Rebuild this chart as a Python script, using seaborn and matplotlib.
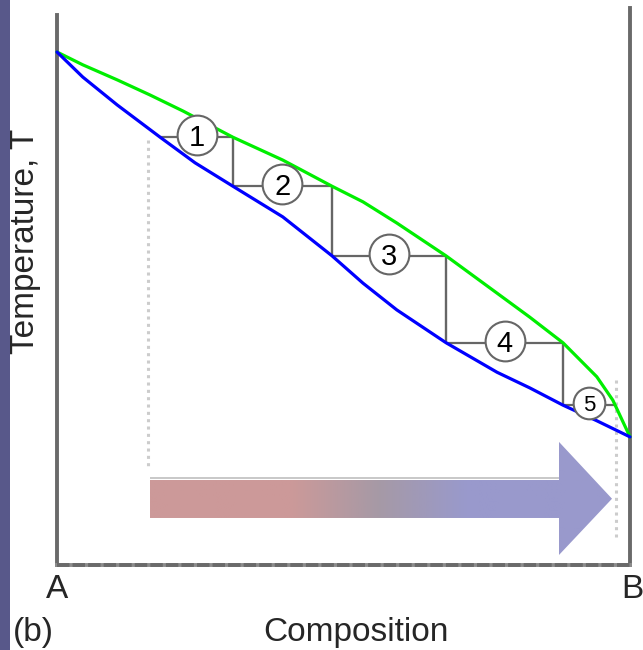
import numpy as np
import pandas as pd
import matplotlib
matplotlib.use("Agg")
import matplotlib.pyplot as plt
from matplotlib.patches import Polygon, Rectangle
import seaborn as sns

# ---------------- data (composition 0 = A, 1 = B; temperature in arbitrary units) ----
endpoints = ["A", "B"]

vapour_x = [0.0, 0.045, 0.105, 0.162, 0.220, 0.307, 0.394, 0.480, 0.534, 0.593,
            0.679, 0.768, 0.825, 0.883, 0.942, 0.970, 1.0]
vapour_T = [92.1, 89.8, 87.1, 84.4, 81.5, 76.8, 72.7, 68.0, 65.2, 61.4,
            55.5, 48.8, 44.5, 39.9, 33.8, 29.6, 23.0]

liquid_x = [0.0, 0.045, 0.105, 0.180, 0.241, 0.307, 0.394, 0.480, 0.534,
            0.593, 0.679, 0.768, 0.825, 0.883, 0.942, 1.0]
liquid_T = [92.1, 87.6, 82.6, 76.8, 72.2, 68.0, 62.5, 55.5, 50.6,
            45.8, 39.9, 34.6, 31.8, 28.7, 25.9, 23.0]

step_labels = ["1", "2", "3", "4", "5"]
step_T = [76.8, 68.0, 55.5, 39.9, 28.7]
step_x_liquid = [0.180, 0.307, 0.480, 0.679, 0.883]
step_x_vapour = [0.307, 0.480, 0.679, 0.883, 0.975]

start_comp = 0.159
end_comp = 0.976

# ---------------- figure ----------------
sns.set_style("white")
plt.rcParams["font.family"] = ["Liberation Sans", "DejaVu Sans"]

W, H = 643, 650
fig = plt.figure(figsize=(W / 100, H / 100), dpi=100)
fig.patch.set_facecolor("white")
fig.patches.append(Rectangle((0, 0), 10 / W, 1, transform=fig.transFigure,
                             facecolor="#58588a", edgecolor="none", zorder=0))

ax = fig.add_axes([57 / W, (H - 565) / H, (630 - 57) / W, (565 - 8) / H])
ax.set_facecolor("none")

df = pd.concat([
    pd.DataFrame({"composition": vapour_x, "T": vapour_T, "phase": "vapour"}),
    pd.DataFrame({"composition": liquid_x, "T": liquid_T, "phase": "liquid"}),
])
sns.lineplot(data=df, x="composition", y="T", hue="phase", sort=False,
             palette={"vapour": "#00ee00", "liquid": "#0000ff"},
             linewidth=2.3, legend=False, ax=ax, zorder=4, estimator=None)
for ln in ax.lines:
    ln.set_clip_on(False)

# tie lines / steps
tie_c = "#666666"
for i in range(len(step_T)):
    ax.plot([step_x_liquid[i], step_x_vapour[i]], [step_T[i], step_T[i]],
            color=tie_c, lw=1.6, zorder=3, solid_capstyle="butt")
    if i + 1 < len(step_T):
        ax.plot([step_x_vapour[i], step_x_vapour[i]], [step_T[i], step_T[i + 1]],
                color=tie_c, lw=1.7, zorder=3, solid_capstyle="butt")

# numbered circles
for i, lab in enumerate(step_labels):
    cx = (step_x_liquid[i] + step_x_vapour[i]) / 2
    cy = step_T[i] + 0.4
    small = (i == len(step_labels) - 1)
    ax.scatter([cx], [cy], s=520 if small else 820, facecolor="white",
               edgecolor="#666666", linewidth=1.5, zorder=5)
    ax.text(cx, cy, lab, ha="center", va="center_baseline",
            fontsize=16 if small else 21, color="black", zorder=6)

# dotted guide lines
ax.plot([start_comp, start_comp], [76.3, 17.1], color="#cccccc", lw=2.2,
        linestyle=(0, (1, 1.4)), zorder=2)
ax.plot([end_comp, end_comp], [33.2, 5.0], color="#cccccc", lw=2.2,
        linestyle=(0, (1, 1.4)), zorder=2)

# gradient arrow
x0, xh, xt = 0.1623, 0.8761, 0.9686
tb0, tb1 = 8.44, 15.26
th0, th1 = 1.8, 22.1
tm = 11.9
verts = [(x0, tb0), (xh, tb0), (xh, th0), (xt, tm), (xh, th1), (xh, tb1), (x0, tb1)]
poly = Polygon(verts, closed=True, facecolor="none", edgecolor="none",
               transform=ax.transData)
ax.add_patch(poly)
pink = np.array([0xcc, 0x99, 0x99]) / 255
mid = np.array([0xa6, 0x99, 0xa6]) / 255
purple = np.array([0x99, 0x99, 0xcc]) / 255
cols = np.linspace(149, 612, 470)
stops = [149, 290, 378, 465, 612]
img = np.zeros((2, len(cols), 3))
for c in range(3):
    img[:, :, c] = np.interp(cols, stops,
                             [pink[c], pink[c], mid[c], purple[c], purple[c]])
im = ax.imshow(img, extent=[x0, xt, th0, th1], aspect="auto",
               interpolation="bilinear", zorder=2)
im.set_clip_path(poly)
ax.plot([x0, xh], [15.6, 15.6], color="#c8c8c8", lw=1.4, zorder=2,
        solid_capstyle="butt")

ax.set_xlim(0, 1)
ax.set_ylim(0, 100)
ax.set_xticks([])
ax.set_yticks([])
ax.set_xlabel("")
ax.set_ylabel("")

# spines
sc = "#6a6a6a"
for s in ["left", "right"]:
    ax.spines[s].set_visible(True)
    ax.spines[s].set_color(sc)
    ax.spines[s].set_linewidth(2.8)
ax.spines["left"].set_bounds(0, 98.7)
ax.spines["top"].set_visible(False)
ax.spines["bottom"].set_color("#8c8c8c")
ax.spines["bottom"].set_linewidth(2.8)
ax.plot([0, 1], [0, 0], color=sc, lw=2.8, linestyle=(0, (3.2, 0.8)),
        clip_on=False, zorder=6)

# texts
fs = 24
fig.text(26 / W, 1 - 241 / H, "Temperature, T", rotation=90, ha="center",
         va="center", fontsize=fs)
fig.text(356 / W, 1 - 632 / H, "Composition", ha="center", va="center", fontsize=fs)
fig.text(57 / W, 1 - 589 / H, endpoints[0], ha="center", va="center", fontsize=fs)
fig.text(632 / W, 1 - 589 / H, endpoints[1], ha="center", va="center", fontsize=fs)
fig.text(13 / W, 1 - 633 / H, "(b)", ha="left", va="center", fontsize=fs)

fig.savefig("out.png", dpi=100)
